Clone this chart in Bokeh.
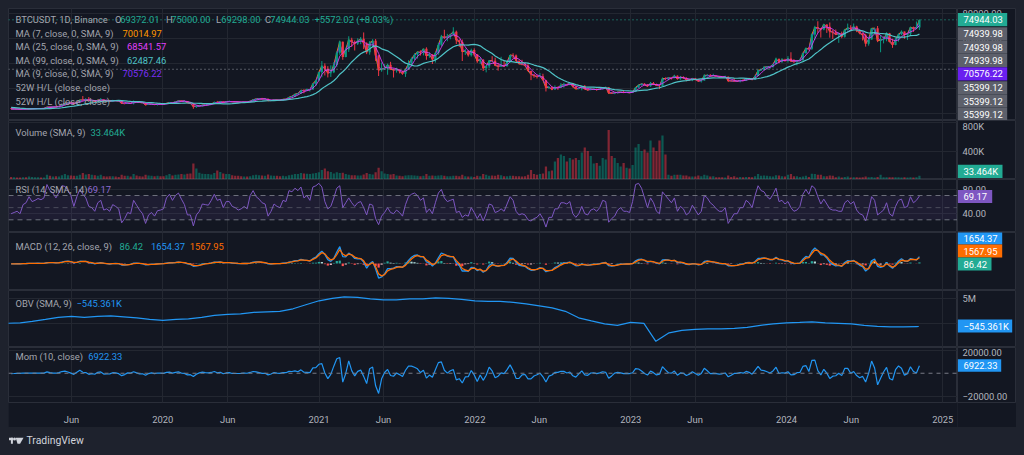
import numpy as np
import pandas as pd
from bokeh.plotting import figure
from bokeh.layouts import column, row
from bokeh.models import Range1d, FixedTicker, Label, Span, BoxAnnotation, ColumnDataSource, Grid
from bokeh.core.properties import value
from bokeh.embed import file_html
from bokeh.resources import INLINE

# ---------------- data (weekly) ----------------
pre_close = [6630, 6600, 6300, 6500, 6350, 6450, 6350, 5580, 3950, 4100, 3550, 3250, 3950, 3830, 4040]

close = [3510,3540,3530,3410,3660,3640,3740,3800,3900,4000,3990,4100,5200,5150,5300,5250,5800,7000,8200,8700,8550,7650,8980,10850,10800,11450,10200,10550,9500,10800,11300,10300,10150,9700,10400,10300,10000,8050,7850,8280,8220,9550,9200,8800,8500,6900,7420,7500,7080,7500,7390,7350,
 8180,8700,8600,9350,10150,9920,9950,8530,8030,5360,5830,5880,6780,6900,7120,7700,8900,8720,9680,8720,9450,9670,9380,9300,9120,9070,9300,9170,9930,11070,11680,11900,11650,11700,10250,10330,10920,10770,10670,11380,11500,13030,13800,15480,15970,18680,18180,19150,19170,23860,26490,33000,
 38150,35830,32290,33090,38880,48580,57490,45240,51200,59000,57350,55820,58200,59770,56250,49000,56600,58200,46450,34650,35680,35790,39100,35500,34700,35290,33810,31780,35400,39850,43800,47040,49320,48800,51750,46000,47260,43170,48200,54950,61530,60860,61300,63270,65470,58620,57270,49400,50100,46680,50800,47300,
 41850,43080,36280,37900,42400,42200,38360,37700,38400,37780,41260,46830,46400,42150,39700,39450,38470,34060,31300,30290,29440,29900,26570,20570,21030,19300,20850,20800,22580,23300,23170,24300,21520,19550,19990,21830,19420,18800,19310,19420,19070,19570,20630,20920,16330,16280,16460,17100,17130,16760,16840,16540,
 17120,20880,22710,23740,22940,21780,24280,23550,22430,22150,28000,27990,28450,28330,30300,27590,29230,28430,26910,26750,28070,27110,25840,26340,30460,30590,30150,30230,29780,29280,29050,29400,26100,26010,25870,25830,26530,26250,27980,27930,27110,29990,34520,35010,37060,37360,37450,39460,43770,41360,43010,42280,
 43930,41730,41580,42120,42580,48300,52120,51730,63110,68950,68390,67210,71280,69360,65660,64940,63120,64010,61480,66940,68510,67760,69650,66640,64250,62680,55850,59210,68160,68250,58110,58710,59490,64160,57300,54840,59130,63350,65600,62820,63900,69030,68020,68780,74944.03]

high = [4110,3730,3640,3590,3700,3700,4200,3900,3950,4030,4080,4140,5350,5470,5400,5640,5880,7450,8370,8800,9090,8800,9100,11200,13970,12000,13200,11100,10650,11080,12300,11450,10950,10600,10950,10480,10350,10100,8560,8780,8450,10370,9950,9500,8900,8580,7880,7900,7480,7550,7690,7500,
 8480,9200,8750,9580,10160,10500,10250,9970,9180,8180,6900,6980,7200,7470,7300,7750,9470,10070,9950,9900,9740,10380,9990,9590,9800,9300,9470,9350,10200,11450,12050,12090,12490,11800,12100,10480,11100,10990,10960,11500,11720,13350,14100,15970,16480,18900,19480,19920,19420,24300,26870,33300,
 41950,40100,37850,38500,41000,49700,58350,57530,52650,61800,60600,58400,60200,61200,64850,57000,58000,59500,59600,46700,40800,39500,39900,41350,36000,36600,35150,34100,35500,42600,44800,48150,49500,50500,51900,52950,48850,47500,49250,56550,62900,67000,63700,63800,69000,66300,59300,59200,51900,50500,51900,52100,
 47550,44450,43500,38900,42650,45850,44750,40300,45400,42600,42350,46950,48200,47200,42400,42980,40800,40000,34250,31350,30650,32400,31800,26900,21900,21550,22500,21600,24300,24650,23650,25200,24450,21900,20600,21850,22800,19700,20350,20500,19950,19700,21100,21450,21050,17200,16800,17450,17420,18390,16950,16970,
 17180,21250,23350,23820,24250,23450,25250,25130,23880,22600,28850,28900,29200,28800,31000,30500,30050,29800,29000,27650,28250,28450,27350,26800,31400,31300,31500,31800,30350,29650,29750,30250,29700,26800,28150,26100,26850,27500,28000,28600,27850,30400,35300,35900,38000,38000,38000,39550,44700,43450,44300,43800,
 45900,49000,43500,42250,43850,48600,52800,52980,64000,70150,73800,68100,71750,71300,72800,66900,67200,64750,65500,67700,71950,70600,72000,70200,66900,62900,63800,61400,68350,68500,70000,62750,61800,65000,64500,59800,60650,64100,66500,65550,64500,69400,69500,73600,75000]

low = [3480,3500,3480,3370,3380,3570,3620,3700,3670,3850,3900,3950,4090,4930,5020,4970,5150,5600,6600,7500,8000,7450,7500,8950,10300,9600,10100,9100,9100,9400,11000,9950,9700,9350,9700,9950,9780,7750,7750,7800,7850,7300,8900,8700,8350,6520,6850,7250,6960,6430,7090,6850,
 7350,8080,8250,8550,9120,9600,9280,8420,7950,3780,4440,5780,5850,6770,6460,6800,7650,8520,8100,8700,8640,9300,9250,9100,8910,8940,9050,9020,9130,9910,10960,11120,11400,11120,9870,9880,10260,10130,10370,10530,11200,11400,12980,13200,15080,15800,16200,18100,17570,19000,21900,26500,
 29000,30420,28850,29240,32300,37350,47000,43000,44950,49250,53270,50400,54800,55450,51550,47500,47050,52900,42050,30000,33400,34800,31000,34800,28800,32700,32100,31000,29280,35200,37500,42800,43950,46350,46500,43000,44600,39600,40750,47000,53800,59500,57800,59400,62300,55600,53250,42000,46850,45500,45550,45700,
 40500,39650,34000,32900,36250,41700,38000,34300,37150,37150,37600,40500,44100,42100,39200,38550,37700,33700,26700,28650,28000,29300,26550,17620,19600,18650,19000,18900,20700,20700,22400,22650,20800,19550,19550,18550,19300,18150,18500,19250,18200,18850,19250,20050,15580,16000,15480,16100,16730,16300,16400,16330,
 16500,17120,20400,22300,22500,21350,21400,22900,21950,19550,21800,26600,26500,27200,28150,27150,26950,27680,25800,26350,25850,26600,25350,24800,26250,29500,29700,29950,29500,28900,28600,28700,25150,25750,25350,25380,24900,26000,26000,27250,26550,26950,29900,34050,34500,35000,35650,36700,39450,40200,40500,41400,
 40750,41500,40300,38550,41900,42250,48000,50600,50900,59000,64550,60750,66600,64500,60650,59600,62800,56550,60200,60750,66300,66650,67600,65100,63400,58400,53500,54300,59100,63450,57100,49000,56100,57800,57200,52550,54600,57500,62700,59800,58900,62400,65250,67450,66800]

volume_k = [28,25,22,22,25,24,35,28,25,24,22,22,60,45,35,38,35,55,70,55,50,45,48,60,85,65,70,60,55,45,60,40,35,38,40,35,30,60,45,45,35,70,50,40,35,60,50,45,40,48,40,38,
 55,70,50,60,65,70,65,75,80,220,150,90,75,70,70,65,85,120,100,80,70,70,55,45,45,40,35,35,40,55,60,55,50,45,65,50,45,45,40,45,40,55,60,70,70,85,80,75,70,80,85,95,
 130,150,110,100,80,95,85,90,70,60,55,55,50,50,65,85,70,65,95,160,110,80,70,65,70,50,45,40,50,55,55,50,45,40,45,70,45,50,45,50,55,45,40,40,45,45,40,60,40,35,35,30,
 45,40,70,60,45,50,45,60,55,40,40,45,45,40,40,35,40,60,130,70,60,70,80,180,110,120,250,300,350,330,250,300,280,300,270,380,450,400,330,220,230,190,300,280,700,330,300,230,180,230,160,150,
 200,450,500,400,420,380,550,450,400,550,620,350,60,45,60,60,60,50,50,35,35,35,50,40,60,50,35,40,25,25,25,20,50,30,40,20,30,25,30,30,25,40,70,45,50,45,40,35,55,50,40,35,
 60,70,40,40,30,35,45,30,75,70,60,60,40,40,50,45,25,35,20,30,35,20,25,25,20,25,35,25,30,20,30,60,25,25,25,25,25,25,20,25,20,25,20,25,45]

rsi = [40,42,44,40,55,58,68,60,62,65,63,66,88,78,74,66,75,86,85,78,70,52,68,80,72,66,52,50,44,58,62,46,48,44,55,52,48,25,32,42,40,62,54,46,40,24,38,42,36,45,46,48,
 66,72,62,70,74,64,55,38,38,20,38,44,56,55,54,62,72,62,64,50,60,60,52,50,46,48,52,48,70,78,68,64,58,56,36,44,56,52,50,62,60,78,76,82,78,84,66,70,62,84,86,90,
 84,60,48,52,66,82,86,50,58,66,58,52,58,60,50,38,56,54,32,22,36,42,50,42,40,46,42,36,55,68,72,74,70,62,66,42,48,40,58,74,80,66,60,62,64,42,44,34,38,36,50,42,
 32,40,28,40,56,54,42,44,48,44,56,68,62,44,38,40,38,30,28,32,34,40,32,18,34,34,48,48,58,58,56,60,40,34,40,52,40,38,46,48,44,50,62,60,26,32,36,46,50,44,44,42,
 60,88,90,82,66,50,66,58,44,40,76,70,64,58,66,44,52,48,38,42,54,46,38,44,70,66,58,54,48,44,44,50,24,32,40,40,50,50,62,58,50,70,86,78,76,68,64,72,82,60,62,56,
 60,50,44,46,52,72,80,72,86,82,68,56,64,56,48,46,46,44,44,58,62,56,60,46,40,38,28,46,68,62,38,42,46,58,40,36,52,62,64,50,52,68,58,62,69.17]

# OBV (SMA 9), millions, month starts Jan 2019 .. Nov 2024 + last bar
obv_m = [0.1, 0.2, 0.5, 0.9, 1.3, 1.5, 1.3, 1.5, 1.6, 1.4, 1.2, 0.9,
         0.7, 0.9, 1.0, 1.3, 1.7, 1.9, 2.0, 2.3, 2.4, 2.5, 3.0, 3.8,
         4.6, 5.1, 5.4, 5.3, 5.0, 4.8, 4.8, 5.0, 5.0, 5.2, 5.1, 4.9,
         4.6, 4.5, 4.5, 4.3, 4.0, 3.6, 3.2, 2.5, 1.2, 0.6, 0.0, -0.3,
         0.3, 0.1, -3.5, -1.8, -1.3, -1.1, -1.0, -1.0, -0.9, -0.7, -0.3, 0.0,
         0.2, 0.3, 0.4, 0.2, 0.1, 0.0, -0.3, -0.5, -0.6, -0.6, -0.55, -0.545]

high_52w = 74939.98
low_52w = 35399.12

x_tick_dates = ["2019-06-01", "2020-01-01", "2020-06-01", "2021-01-01", "2021-06-01", "2022-01-01",
                "2022-06-01", "2023-01-01", "2023-06-01", "2024-01-01", "2024-06-01", "2025-01-01"]
x_tick_labels = ["Jun", "2020", "Jun", "2021", "Jun", "2022", "Jun", "2023", "Jun", "2024", "Jun", "2025"]

# ---------------- derived series ----------------
N = len(close)
weeks = pd.date_range("2019-01-07", periods=N, freq="7D")
xs = weeks + pd.Timedelta(hours=84)
allc = np.array(pre_close + close, dtype=float)
c = np.array(close, dtype=float)
o = np.r_[pre_close[-1], c[:-1]]
h = np.maximum(np.array(high, float), np.maximum(o, c))
l = np.minimum(np.array(low, float), np.minimum(o, c))
up = c >= o


def sma_days(n):
    full, rem = divmod(n, 7)
    w = [7] * full + ([rem] if rem else [])
    out = np.full(len(allc), np.nan)
    for i in range(len(w) - 1, len(allc)):
        out[i] = sum(wk * allc[i - k] for k, wk in enumerate(w)) / n
    return out[-N:]


ma7, ma25, ma99, ma9 = sma_days(7), sma_days(25), sma_days(99), sma_days(9)


def ema(arr, a):
    out = np.empty_like(arr)
    out[0] = arr[0]
    for i in range(1, len(arr)):
        out[i] = out[i - 1] + a * (arr[i] - out[i - 1])
    return out


def lag_alpha(n_days):
    # weekly smoothing factor with the same mean lag as an n-day EMA
    return 1.0 / (1.0 + (n_days - 1) / 2.0 / 7.0)


macd_full = ema(allc, lag_alpha(12)) - ema(allc, lag_alpha(26))
sig_full = ema(macd_full, lag_alpha(9))
macd = macd_full[-N:]
sig = sig_full[-N:]
hist = macd - sig
hprev = np.r_[0, hist[:-1]]
hcol = np.where(hist >= 0, np.where(hist >= hprev, "#26a69a", "#b2dfdb"),
                np.where(hist <= hprev, "#ff5252", "#ffcdd2"))

mom = (allc[2:] - (allc[1:-1] + allc[:-2]) / 2)[-N:]

obv_x = list(pd.date_range("2019-01-01", "2024-11-01", freq="MS")) + [pd.Timestamp("2024-11-06")]

# ---------------- styling ----------------
FONT = "Roboto"
FS = "9.4px"
BG = "#131722"
PAGE = "#1e222d"
GRIDC = "#232731"
SEP = "#2a2e39"
TXT = "#b2b5be"
LEG = "#a3a6af"
UPC = "#089981"
DNC = "#f23645"
GREEN = "#22ab94"
BLUE = "#2196f3"
GRAYBOX = "#5d606b"
MAIN_W = 949
AXW = 59
WID = 5.2 * 86400000

xt = [pd.Timestamp(t).value // 10**6 for t in x_tick_dates]
xr = Range1d(start=pd.Timestamp("2019-01-04 09:00"), end=pd.Timestamp("2025-02-04 17:00"))


class Pane:
    def __init__(self, top, hgt, yr, yticks, ylabels, bottom_axis=False, label_shift=None):
        self.top, self.h, self.yr = top, hgt, yr
        extra = 22 if bottom_axis else 0
        yrange = Range1d(*yr)
        p = figure(width=MAIN_W, height=hgt + extra, x_range=xr, y_range=yrange,
                   x_axis_type="datetime", x_axis_location="below" if bottom_axis else None,
                   y_axis_location=None, toolbar_location=None, output_backend="svg",
                   min_border=0, min_border_bottom=extra,
                   background_fill_color=BG, border_fill_color=BG, outline_line_color=SEP)
        p.grid.visible = False
        p.add_layout(Grid(dimension=0, ticker=FixedTicker(ticks=xt), grid_line_color=GRIDC), "center")
        p.add_layout(Grid(dimension=1, ticker=FixedTicker(ticks=yticks), grid_line_color=GRIDC), "center")
        if bottom_axis:
            xa = p.xaxis[0]
            xa.ticker = FixedTicker(ticks=xt)
            xa.major_label_overrides = {t: s for t, s in zip(xt, x_tick_labels)}
            xa.axis_line_color = None
            xa.major_tick_line_color = None
            xa.minor_tick_line_color = None
            xa.major_label_standoff = 5
            xa.major_label_text_color = TXT
            xa.major_label_text_font = FONT
            xa.major_label_text_font_size = FS
        s = figure(width=AXW, height=hgt + extra, x_range=Range1d(0, AXW), y_range=yrange,
                   x_axis_location=None, y_axis_location=None, toolbar_location=None,
                   output_backend="svg", min_border=0, min_border_bottom=extra,
                   background_fill_color=BG, border_fill_color=BG, outline_line_color=SEP)
        s.grid.visible = False
        # price-scale tick labels (a label touching the pane edge is nudged inside)
        ypos = list(yticks)
        if label_shift:
            for i, t in enumerate(yticks):
                if t in label_shift:
                    ypos[i] = self.ydata(label_shift[t])
        if yticks:
            s.text(x=[5] * len(yticks), y=ypos, text=ylabels, text_color=TXT, text_font=value(FONT),
                   text_font_size=FS, text_baseline="middle", text_align="left")
        self.p, self.s = p, s

    def ydata(self, abs_y):
        y0, y1 = self.yr
        return y1 - (abs_y - self.top) * (y1 - y0) / self.h

    def legend(self, text, ax, ay, color):
        self.p.add_layout(Label(x=ax - 8, y=self.top + self.h - ay, x_units="screen", y_units="screen",
                                text=text, text_color=color, text_font=FONT, text_font_size=FS,
                                text_baseline="middle", text_align="left"))

    def box(self, text, ay, bg, right):
        yc = self.ydata(ay)
        half = 6.6 * (self.yr[1] - self.yr[0]) / self.h
        self.s.quad(left=[0.3], right=[right], bottom=[yc - half], top=[yc + half], fill_color=bg, line_color=None)
        self.s.text(x=[6], y=[yc], text=[text], text_color="#ffffff", text_font=value(FONT),
                    text_font_size=FS, text_baseline="middle", text_align="left")

    def layout(self):
        return row(self.p, self.s, spacing=0)


# ---------------- price pane ----------------
P = Pane(8, 112, (-5600, 84000), [0, 20000, 40000, 60000, 80000],
         ["0.00", "20000.00", "40000.00", "60000.00", "80000.00"])
pp = P.p
cs = ColumnDataSource(dict(x=xs, h=h, l=l, top=np.maximum(o, c), bot=np.minimum(o, c),
                           col=np.where(up, UPC, DNC)))
pp.add_layout(Span(location=low_52w, dimension="width", line_color="#9598a1", line_dash="1 3", line_width=1))
pp.add_layout(Span(location=high_52w, dimension="width", line_color=GREEN, line_dash="1 3", line_width=1))
pp.line(xs, ma7, line_color="#ff9800", line_width=1)
pp.line(xs, ma9, line_color="#7b2ff7", line_width=1)
pp.segment(x0="x", y0="l", x1="x", y1="h", line_color="col", line_width=1, source=cs)
pp.vbar(x="x", width=WID, top="top", bottom="bot", fill_color="col", line_color=None, source=cs)
pp.line(xs, ma25, line_color="#e040fb", line_width=1, line_alpha=0.85)
pp.line(xs, ma99, line_color="#4fc3c7", line_width=1.2)

P.legend("BTCUSDT, 1D, Binance", 15, 19.3, LEG)
for letter, val, lx in [("O", "69372.01", 114.5), ("H", "75000.00", 165.5), ("L", "69298.00", 215.5), ("C", "74944.03", 264.5)]:
    P.legend(letter, lx, 19.3, LEG)
    P.legend(val, lx + 5.2, 19.3, GREEN)
P.legend("+5572.02 (+8.03%)", 314, 19.3, GREEN)
P.legend("MA (7, close, 0, SMA, 9)", 15, 33.1, LEG)
P.legend("70014.97", 122, 33.1, "#ff9800")
P.legend("MA (25, close, 0, SMA, 9)", 15, 46.4, LEG)
P.legend("68541.57", 126.5, 46.4, "#e040fb")
P.legend("MA (99, close, 0, SMA, 9)", 15, 60, LEG)
P.legend("62487.46", 126.5, 60, "#4fc3c7")
P.legend("MA (9, close, 0, SMA, 9)", 15, 73, LEG)
P.legend("70576.22", 122, 73, "#7b2ff7")
P.legend("52W H/L (close, close)", 15, 87.3, LEG)
P.legend("52W H/L (close, close)", 15, 100.7, LEG)
for txt, yy, bg in [("74944.03", 19.2, GREEN), ("74939.98", 33.3, GRAYBOX), ("74939.98", 46.7, GRAYBOX),
                    ("74939.98", 60, GRAYBOX), ("70576.22", 73.3, "#6a1ff0"), ("35399.12", 87.3, GRAYBOX),
                    ("35399.12", 100.7, GRAYBOX), ("35399.12", 114.2, GRAYBOX)]:
    P.box(txt, yy, bg, 49.7)

# ---------------- volume pane ----------------
V = Pane(120, 59, (-7.1, 835.7), [400, 800], ["400K", "800K"], label_shift={800: 126.0})
V.p.vbar(x=xs, width=WID, top=volume_k, bottom=0, fill_color=np.where(up, UPC, DNC).tolist(),
         fill_alpha=0.5, line_color=None)
V.legend("Volume (SMA, 9)", 15, 132.3, LEG)
V.legend("33.464K", 90, 132.3, GREEN)
V.box("33.464K", 170.8, GREEN, 45)

# ---------------- RSI pane ----------------
R = Pane(179, 53, (9.1, 96.3), [40, 80], ["40.00", "80.00"])
R.p.add_layout(BoxAnnotation(bottom=30, top=70, fill_color="#7e57c2", fill_alpha=0.1, line_color=None))
for lv, a_ in [(70, 0.9), (50, 0.5), (30, 0.9)]:
    R.p.add_layout(Span(location=lv, dimension="width", line_color="#787b86", line_alpha=a_,
                        line_dash="5 4", line_width=1))
R.p.line(xs, rsi, line_color="#7e57c2", line_width=1)
R.legend("RSI (14, SMA, 14)", 15, 189, LEG)
R.legend("69.17", 87, 189, "#8e6bd1")
R.box("69.17", 196, "#7e57c2", 34.7)

# ---------------- MACD pane ----------------
M = Pane(232, 58, (-8100, 9300), [], [])
M.p.vbar(x=xs, width=WID, top=hist, bottom=0, fill_color=hcol.tolist(), line_color=None)
M.p.line(xs, macd, line_color=BLUE, line_width=1.3)
M.p.line(xs, sig, line_color="#ff6d00", line_width=1.3)
M.legend("MACD (12, 26, close, 9)", 15, 245.7, LEG)
M.legend("86.42", 119, 245.7, GREEN)
M.legend("1654.37", 150.5, 245.7, BLUE)
M.legend("1567.95", 189.3, 245.7, "#ff6d00")
M.box("1654.37", 237.5, BLUE, 44.7)
M.box("1567.95", 250.5, "#ff6d00", 44.7)
M.box("86.42", 263.5, GREEN, 34)

# ---------------- OBV pane ----------------
O = Pane(290, 57, (-4.74, 6.66), [0, 5], ["", "5M"])
O.p.line(obv_x, obv_m, line_color=BLUE, line_width=1.2)
O.legend("OBV (SMA, 9)", 15, 302.7, LEG)
O.legend("\u2212545.361K", 76, 302.7, BLUE)
O.box("\u2212545.361K", 325.5, BLUE, 54.7)

# ---------------- Momentum pane ----------------
MO = Pane(347, 58, (-25545, 22480), [-20000, 20000], ["\u221220000.00", "20000.00"], bottom_axis=True,
          label_shift={20000: 352.5})
MO.p.add_layout(Span(location=0, dimension="width", line_color="#787b86", line_dash="4 4", line_width=1))
MO.p.line(xs, mom, line_color=BLUE, line_width=1.2)
MO.legend("Mom (10, close)", 15, 359.3, LEG)
MO.legend("6922.33", 87.7, 359.3, BLUE)
MO.box("6922.33", 366, BLUE, 43.7)

# ---------------- footer ----------------
W = MAIN_W + AXW
pf = figure(width=W, height=20, x_range=(0, W), y_range=(0, 20), toolbar_location=None,
            output_backend="svg", min_border=0, x_axis_location=None, y_axis_location=None,
            background_fill_color=PAGE, border_fill_color=PAGE, outline_line_color=None)
pf.grid.visible = False
LOGO = "#d1d4dc"
pf.quad(left=[0.5, 2.4], right=[4.4, 4.4], bottom=[7.3, 3.8], top=[9.7, 9.7], fill_color=LOGO, line_color=None)
pf.scatter(x=[6.0], y=[8.5], size=3, marker="circle", fill_color=LOGO, line_color=None)
pf.patch(x=[7.2, 15.0, 11.6, 9.0], y=[9.7, 9.7, 3.8, 3.8], fill_color=LOGO, line_color=None)
pf.add_layout(Label(x=18, y=7, x_units="screen", y_units="screen", text="TradingView", text_color=LOGO,
                    text_font=FONT, text_font_size="10.4px", text_baseline="middle"))

layout = column(P.layout(), V.layout(), R.layout(), M.layout(), O.layout(), MO.layout(), pf, spacing=0)

TEMPLATE = """
{% block preamble %}<style>
html, body { background-color: #1e222d !important; margin: 0 !important; overflow: hidden !important; }
body { padding: 8px !important; box-sizing: border-box !important; }
</style>{% endblock %}
"""
html = file_html(layout, INLINE, title="BTCUSDT", template=TEMPLATE)
open("out.html", "w").write(html)
